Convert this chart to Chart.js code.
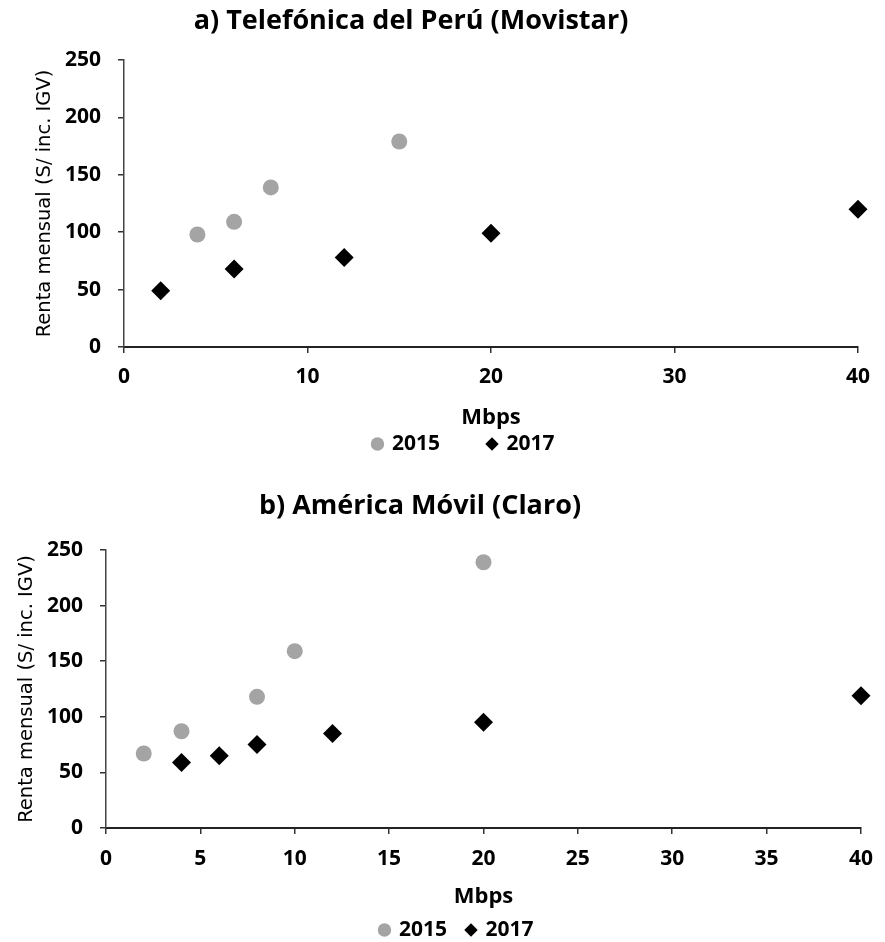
<!DOCTYPE html>
<html>
<head>
<meta charset="utf-8">
<title>Renta mensual vs Mbps</title>
<script src="https://cdn.jsdelivr.net/npm/chart.js@4.4.1/dist/chart.umd.min.js"></script>
<style>
  html, body { margin: 0; padding: 0; background: #fff; }
  .box { position: relative; width: 885px; }
  canvas { display: block; }
</style>
</head>
<body>
<div class="box" style="height:460px"><canvas id="movistar"></canvas></div>
<div class="box" style="height:482px"><canvas id="claro"></canvas></div>
<script>
// a) Telefónica del Perú (Movistar)
const movistarX2015 = [4, 6, 8, 15];
const movistarY2015 = [98, 109, 139, 179];
const movistarX2017 = [2, 6, 12, 20, 40];
const movistarY2017 = [49, 68, 78, 99, 120];

// b) América Móvil (Claro)
const claroX2015 = [2, 4, 8, 10, 20];
const claroY2015 = [67, 87, 118, 159, 239];
const claroX2017 = [4, 6, 8, 12, 20, 40];
const claroY2017 = [59, 65, 75, 85, 95, 119];

const seriesNames = ['2015', '2017'];
const yTicks = [0, 50, 100, 150, 200, 250];
const xTicksMovistar = [0, 10, 20, 30, 40];
const xTicksClaro = [0, 5, 10, 15, 20, 25, 30, 35, 40];
const xTitle = 'Mbps';
const yTitle = 'Renta mensual (S/ inc. IGV)';

const sans = "'Open Sans', 'Liberation Sans', sans-serif";
Chart.defaults.color = '#000';

const pts = (xs, ys) => xs.map((x, i) => ({ x: x, y: ys[i] }));

// moves title / legend to the spot they sit at in the original
const nudge = {
  id: 'nudge',
  afterLayout(chart, args, opts) {
    const t = chart.titleBlock;
    if (t && opts.titleX != null) {
      const dx = opts.titleX - (t.left + t.right) / 2;
      t.left += dx; t.right += dx;
    }
    const l = chart.legend;
    if (l && opts.legendX != null) {
      const dx = opts.legendX - (l.left + l.right) / 2;
      l.left += dx; l.right += dx;
      const lab = l.options.labels;
      const dy = opts.legendY - (l.top + lab.padding + lab.font.size / 2);
      l.top += dy; l.bottom += dy;
    }
  }
};

function makeChart(id, o) {
  const axisGrid = { drawOnChartArea: false, drawTicks: true, tickLength: 6, color: '#333', lineWidth: 1.5 };
  const tickFont = { family: sans, size: 21, weight: 'bold' };
  return new Chart(document.getElementById(id), {
    type: 'scatter',
    data: {
      datasets: [
        { label: seriesNames[0], data: pts(o.x15, o.y15), pointStyle: 'circle', pointRadius: 8,
          backgroundColor: '#a4a4a4', borderWidth: 0, clip: false },
        { label: seriesNames[1], data: pts(o.x17, o.y17), pointStyle: 'rectRot', pointRadius: 9.5,
          backgroundColor: '#000', borderWidth: 0, clip: false }
      ]
    },
    plugins: [nudge],
    options: {
      responsive: true,
      maintainAspectRatio: false,
      animation: false,
      layout: { padding: { left: 0, right: o.padRight, top: 0, bottom: o.padBottom } },
      plugins: {
        title: {
          display: true, text: o.title, color: '#000',
          font: { family: sans, size: 27, weight: 'bold' },
          padding: { top: o.titleTop, bottom: o.titleBottom }
        },
        legend: {
          position: 'bottom',
          labels: {
            usePointStyle: true, boxWidth: 8, boxHeight: 9.5, padding: o.legendGap, color: '#000',
            font: { family: sans, size: 21, weight: 'bold' }
          }
        },
        tooltip: { enabled: false },
        nudge: { titleX: o.titleX, legendX: o.legendX, legendY: o.legendY }
      },
      scales: {
        x: {
          type: 'linear', min: 0, max: 40,
          afterBuildTicks: s => { s.ticks = o.xTicks.map(v => ({ value: v })); },
          grid: axisGrid,
          border: { color: '#222', width: 2 },
          ticks: { font: tickFont, padding: o.xTickPad, maxRotation: 0, autoSkip: false },
          title: { display: true, text: xTitle, font: { family: sans, size: 22, weight: 'bold' },
                   padding: { top: o.xTitlePad, bottom: 0 } }
        },
        y: {
          type: 'linear', min: 0, max: 250,
          afterBuildTicks: s => { s.ticks = yTicks.map(v => ({ value: v })); },
          afterFit: s => { s.width = o.yWidth; },
          grid: axisGrid,
          border: { color: '#444', width: 1.5 },
          ticks: { font: tickFont, padding: 17 },
          title: { display: true, text: yTitle, font: { family: "'DejaVu Sans', Verdana, sans-serif", size: 19.5 },
                   padding: { top: o.yTitlePad, bottom: 0 } }
        }
      }
    }
  });
}

makeChart('movistar', {
  title: 'a) Telefónica del Perú (Movistar)',
  x15: movistarX2015, y15: movistarY2015, x17: movistarX2017, y17: movistarY2017,
  xTicks: xTicksMovistar,
  yWidth: 124, padRight: 27, padBottom: -50.2,
  titleTop: 4.8, titleBottom: 22.8, titleX: 411,
  xTickPad: 11, xTitlePad: 4.6, yTitlePad: 33,
  legendGap: 48, legendX: 464, legendY: 444
});

makeChart('claro', {
  title: 'b) América Móvil (Claro)',
  x15: claroX2015, y15: claroY2015, x17: claroX2017, y17: claroY2017,
  xTicks: xTicksClaro,
  yWidth: 106, padRight: 14, padBottom: -19.2,
  titleTop: 29.8, titleBottom: 27.8, titleX: 420,
  xTickPad: 12, xTitlePad: 0.6, yTitlePad: 15.6,
  legendGap: 20, legendX: 457, legendY: 470
});
</script>
</body>
</html>
